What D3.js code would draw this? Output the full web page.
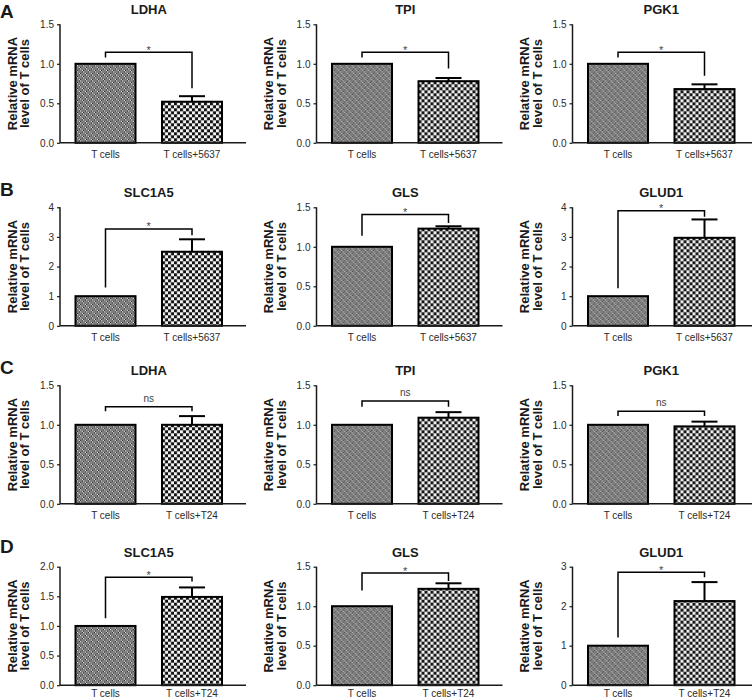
<!DOCTYPE html>
<html>
<head>
<meta charset="utf-8">
<script src="https://cdn.jsdelivr.net/npm/d3@7"></script>
<style>
  html, body { margin: 0; padding: 0; background: #fff; }
  svg { display: block; font-family: "Liberation Sans", Arial, sans-serif; }
</style>
</head>
<body>
<svg id="chart" width="752" height="700"></svg>
<script>
// ---------------- DATA ----------------
const rowLetters = ["A", "B", "C", "D"];
const categories5637 = ["T cells", "T cells+5637"];
const categoriesT24 = ["T cells", "T cells+T24"];
const genesGlycolysis = ["LDHA", "TPI", "PGK1"];
const genesGlutamine = ["SLC1A5", "GLS", "GLUD1"];

// bar means [T cells, T cells + tumour]
const meansA = [[1, 0.52], [1, 0.78], [1, 0.68]];
const meansB = [[1, 2.50], [1, 1.23], [1, 2.97]];
const meansC = [[1, 1.00], [1, 1.09], [1, 0.98]];
const meansD = [[1, 1.49], [1, 1.22], [1, 2.13]];

// top of the error bar of the second column
const errTopA = [0.59, 0.82, 0.74];
const errTopB = [2.92, 1.26, 3.59];
const errTopC = [1.11, 1.16, 1.04];
const errTopD = [1.65, 1.29, 2.61];

// y-axis maxima and ticks
const yMaxA = [1.5, 1.5, 1.5];
const yMaxB = [4, 1.5, 4];
const yMaxC = [1.5, 1.5, 1.5];
const yMaxD = [2, 1.5, 3];
const ticksDec15 = [0, 0.5, 1.0, 1.5];
const ticksDec20 = [0, 0.5, 1.0, 1.5, 2.0];
const ticksInt4 = [0, 1, 2, 3, 4];
const ticksInt3 = [0, 1, 2, 3];
const ticksA = [ticksDec15, ticksDec15, ticksDec15];
const ticksB = [ticksInt4, ticksDec15, ticksInt4];
const ticksC = [ticksDec15, ticksDec15, ticksDec15];
const ticksD = [ticksDec20, ticksDec15, ticksInt3];
const tickFmtA = [".1f", ".1f", ".1f"];
const tickFmtB = ["d", ".1f", "d"];
const tickFmtC = [".1f", ".1f", ".1f"];
const tickFmtD = [".1f", ".1f", "d"];

// significance brackets: [left end, top, right end] in data units
const bracketsA = [[1.08, 1.146, 0.69], [1.08, 1.146, 0.94], [1.08, 1.146, 0.85]];
const bracketsB = [[1.29, 3.27, 3.06], [1.14, 1.41, 1.30], [1.27, 3.88, 3.68]];
const bracketsC = [[1.17, 1.23, 1.17], [1.23, 1.30, 1.23], [1.11, 1.17, 1.11]];
const bracketsD = [[1.13, 1.82, 1.75], [1.20, 1.42, 1.32], [1.21, 2.86, 2.73]];
const signifA = ["*", "*", "*"];
const signifB = ["*", "*", "*"];
const signifC = ["ns", "ns", "ns"];
const signifD = ["*", "*", "*"];

const rows = [
  { letter: rowLetters[0], cats: categories5637, genes: genesGlycolysis, means: meansA, err: errTopA, ymax: yMaxA, ticks: ticksA, fmt: tickFmtA, br: bracketsA, sig: signifA },
  { letter: rowLetters[1], cats: categories5637, genes: genesGlutamine, means: meansB, err: errTopB, ymax: yMaxB, ticks: ticksB, fmt: tickFmtB, br: bracketsB, sig: signifB },
  { letter: rowLetters[2], cats: categoriesT24, genes: genesGlycolysis, means: meansC, err: errTopC, ymax: yMaxC, ticks: ticksC, fmt: tickFmtC, br: bracketsC, sig: signifC },
  { letter: rowLetters[3], cats: categoriesT24, genes: genesGlutamine, means: meansD, err: errTopD, ymax: yMaxD, ticks: ticksD, fmt: tickFmtD, br: bracketsD, sig: signifD }
];

// ---------------- LAYOUT ----------------
const colAxisX = [60, 316.5, 572.5];
const rowTop = [24.3, 207.3, 385.3, 566.7];
const letterBaseline = [17.5, 195.5, 374, 552.5];
const xLabelPad = [8, 8, 8, 5];
const plotH = 118.5;
const xAxisLen = 186;
const barStart = 15.5, barW = 60, barStep = 86.5;

const svg = d3.select("#chart");
const defs = svg.append("defs");

// pattern for the control bar: grey with small checker motifs
const p1 = defs.append("pattern").attr("id", "patCtrl").attr("patternUnits", "userSpaceOnUse")
  .attr("width", 6).attr("height", 6);
p1.append("rect").attr("width", 6).attr("height", 6).attr("fill", "#7d7d7d");
[[1, 1, "#fff"], [2, 1, "#111"], [1, 2, "#111"], [2, 2, "#fff"],
 [4, 4, "#fff"], [5, 4, "#111"], [4, 5, "#111"], [5, 5, "#fff"]].forEach(([px, py, c]) => {
  p1.append("rect").attr("x", px).attr("y", py).attr("width", 1).attr("height", 1).attr("fill", c);
});

// pattern for the co-culture bar: black/white checkerboard
const p2 = defs.append("pattern").attr("id", "patCo").attr("patternUnits", "userSpaceOnUse")
  .attr("width", 6).attr("height", 6);
p2.append("rect").attr("width", 6).attr("height", 6).attr("fill", "#f4f4f4");
p2.append("rect").attr("x", 0).attr("y", 0).attr("width", 3).attr("height", 3).attr("fill", "#111");
p2.append("rect").attr("x", 3).attr("y", 3).attr("width", 3).attr("height", 3).attr("fill", "#111");
p2.append("rect").attr("x", 2.5).attr("y", 0).attr("width", 1).attr("height", 6).attr("fill", "#888").attr("opacity", 0.5);

const fills = ["url(#patCtrl)", "url(#patCo)"];
const ink = "#1a1a1a";

rows.forEach((row, ri) => {
  const top = rowTop[ri];
  // panel letter
  svg.append("text").attr("x", 0).attr("y", letterBaseline[ri])
    .attr("font-size", 19).attr("font-weight", "bold").attr("fill", ink).text(row.letter);

  row.genes.forEach((gene, ci) => {
    const ax = colAxisX[ci];
    const g = svg.append("g").attr("transform", `translate(${ax},${top})`);
    const y = d3.scaleLinear().domain([0, row.ymax[ci]]).range([plotH, 0]);
    const x = d3.scaleBand().domain(row.cats)
      .range([barStart, barStart + barStep + barW])
      .paddingInner((barStep - barW) / barStep).paddingOuter(0);

    // bars
    g.selectAll("rect.bar").data(row.cats).join("rect").attr("class", "bar")
      .attr("x", d => x(d)).attr("width", x.bandwidth())
      .attr("y", (d, i) => y(row.means[ci][i]))
      .attr("height", (d, i) => y(0) - y(row.means[ci][i]))
      .attr("fill", (d, i) => fills[i])
      .attr("stroke", "#000").attr("stroke-width", 2);

    // error bar on second column
    const cx2 = x(row.cats[1]) + x.bandwidth() / 2;
    g.append("line").attr("x1", cx2).attr("x2", cx2)
      .attr("y1", y(row.means[ci][1])).attr("y2", y(row.err[ci]))
      .attr("stroke", "#000").attr("stroke-width", 2);
    g.append("line").attr("x1", cx2 - 13).attr("x2", cx2 + 13)
      .attr("y1", y(row.err[ci])).attr("y2", y(row.err[ci]))
      .attr("stroke", "#000").attr("stroke-width", 2);

    // y axis
    const yAxis = d3.axisLeft(y).tickValues(row.ticks[ci]).tickFormat(d3.format(row.fmt[ci]))
      .tickSize(3).tickPadding(3);
    const ya = g.append("g").call(yAxis);
    ya.select(".domain").attr("stroke", ink).attr("stroke-width", 1.5).attr("d", `M0,${y(0)}V${y(row.ymax[ci])}`);
    ya.selectAll(".tick line").attr("stroke", ink).attr("stroke-width", 1.2);
    ya.selectAll(".tick text").attr("font-size", 10).attr("fill", "#2a2a2a")
      .attr("font-family", "Liberation Sans, Arial, sans-serif");

    // x axis
    const xAxis = d3.axisBottom(x).tickSize(0).tickPadding(xLabelPad[ri]);
    const xa = g.append("g").attr("transform", `translate(0,${plotH})`).call(xAxis);
    xa.select(".domain").attr("stroke", ink).attr("stroke-width", 1.5).attr("d", `M0,0H${xAxisLen}`);
    xa.selectAll(".tick text").attr("font-size", 10).attr("fill", "#2a2a2a")
      .attr("font-family", "Liberation Sans, Arial, sans-serif");

    // title
    const midX = (x(row.cats[0]) + x(row.cats[1]) + x.bandwidth()) / 2;
    g.append("text").attr("x", midX).attr("y", -10).attr("text-anchor", "middle")
      .attr("font-size", 13).attr("font-weight", "bold").attr("fill", ink).text(gene);

    // y label (two lines)
    const lab = g.append("text").attr("transform", `translate(-43.5,${plotH / 2}) rotate(-90)`)
      .attr("text-anchor", "middle").attr("font-size", 13).attr("font-weight", "bold").attr("fill", ink);
    lab.append("tspan").attr("x", 0).attr("y", 0).text("Relative mRNA");
    lab.append("tspan").attr("x", 0).attr("dy", 12.5).text("level of T cells");

    // significance bracket
    const cx1 = x(row.cats[0]) + x.bandwidth() / 2;
    const b = row.br[ci];
    const path = d3.path();
    path.moveTo(cx1, y(b[0]));
    path.lineTo(cx1, y(b[1]));
    path.lineTo(cx2, y(b[1]));
    path.lineTo(cx2, y(b[2]));
    g.append("path").attr("d", path.toString()).attr("fill", "none")
      .attr("stroke", "#000").attr("stroke-width", 1.5);
    const sig = row.sig[ci];
    g.append("text").attr("x", (cx1 + cx2) / 2)
      .attr("y", sig === "*" ? y(b[1]) + 1.5 : y(b[1]) - 5)
      .attr("text-anchor", "middle").attr("font-size", sig === "*" ? 11 : 10)
      .attr("fill", "#444").text(sig);
  });
});
</script>
</body>
</html>
